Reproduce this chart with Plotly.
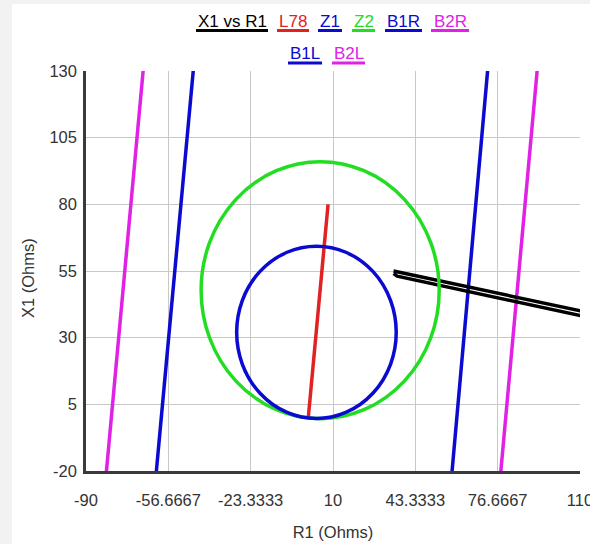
import plotly.graph_objects as go

# ---------------- data ----------------
x_tick_vals = [-90, -56.6667, -23.3333, 10, 43.3333, 76.6667, 110]
x_tick_text = ["-90", "-56.6667", "-23.3333", "10", "43.3333", "76.6667", "110"]
y_tick_vals = [-20, 5, 30, 55, 80, 105, 130]
y_tick_text = ["-20", "5", "30", "55", "80", "105", "130"]

# X1 vs R1 trajectory (thin loop)
xr_x = [34.5, 50, 70, 90, 112, 112, 90, 70, 50, 36, 34.5]
xr_y = [55.0, 51.95, 48.0, 44.05, 39.7, 37.9, 42.25, 46.2, 50.15, 53.1, 54.0]

# L78 line
l78_x = [0, 8]
l78_y = [0, 80]

# blinder lines (y extent shared)
blinder_y = [-40, 150]
b1r_x = [56.3, 74.5]
b2r_x = [76.0, 94.6]
b1l_x = [-63.5, -44.6]
b2l_x = [-83.7, -64.9]

# mho circles: [x0, x1, y0, y1] bounds
z1_bounds = [-29.0, 35.6, -0.3, 64.3]
z2_bounds = [-43.4, 53.0, -0.4, 96.0]

# legend
legend_names = ["X1 vs R1", "L78", "Z1", "Z2", "B1R", "B2R", "B1L", "B2L"]

# ---------------- styles ----------------
BLACK = "#000000"
RED = "#e02222"
BLUE = "#0a0ad0"
GREEN = "#22dd22"
MAGENTA = "#e022e6"
FONT = "Liberation Sans, Arial, sans-serif"
LW = 3.5

fig = go.Figure()

fig.add_trace(go.Scatter(x=b2l_x, y=blinder_y, mode="lines",
                         line=dict(color=MAGENTA, width=LW), showlegend=False))
fig.add_trace(go.Scatter(x=b1l_x, y=blinder_y, mode="lines",
                         line=dict(color=BLUE, width=LW), showlegend=False))
fig.add_trace(go.Scatter(x=b1r_x, y=blinder_y, mode="lines",
                         line=dict(color=BLUE, width=LW), showlegend=False))
fig.add_trace(go.Scatter(x=b2r_x, y=blinder_y, mode="lines",
                         line=dict(color=MAGENTA, width=LW), showlegend=False))
fig.add_trace(go.Scatter(x=l78_x, y=l78_y, mode="lines",
                         line=dict(color=RED, width=LW), showlegend=False))
fig.add_trace(go.Scatter(x=xr_x, y=xr_y, mode="lines",
                         line=dict(color=BLACK, width=3.4), showlegend=False))

shapes = []
# background: gray paper with white area
shapes.append(dict(type="rect", xref="paper", yref="paper", layer="below",
                   x0=(12 - 86) / 494, x1=(600 - 86) / 494,
                   y0=(471 - 560) / 400, y1=(471 - 4) / 400,
                   fillcolor="white", line=dict(width=0)))
# circles
for b, c in [(z2_bounds, GREEN), (z1_bounds, BLUE)]:
    shapes.append(dict(type="circle", xref="x", yref="y",
                       x0=b[0], x1=b[1], y0=b[2], y1=b[3],
                       line=dict(color=c, width=LW)))

# legend built from annotations + underline shapes (pixel layout)
leg_colors = [BLACK, RED, BLUE, GREEN, BLUE, MAGENTA, BLUE, MAGENTA]
leg_extents = [(196, 268), (277, 309), (318, 342), (352, 375), (385, 422),
               (431, 469), (288, 322), (332, 365)]
leg_rows = [0, 0, 0, 0, 0, 0, 1, 1]
row_text_y = [21, 53]
row_line_y = [30.5, 63]

def px2paper_x(px):
    return (px - 86) / 494

def px2paper_y(py):
    return (471 - py) / 400

annotations = []
for name, col, (a, b), r in zip(legend_names, leg_colors, leg_extents, leg_rows):
    annotations.append(dict(text=name, xref="paper", yref="paper",
                            x=px2paper_x((a + b) / 2), y=px2paper_y(row_text_y[r]),
                            xanchor="center", yanchor="middle", showarrow=False,
                            font=dict(family=FONT, size=17, color=col)))
    shapes.append(dict(type="line", xref="paper", yref="paper",
                       x0=px2paper_x(a), x1=px2paper_x(b),
                       y0=px2paper_y(row_line_y[r]), y1=px2paper_y(row_line_y[r]),
                       line=dict(color=col, width=3)))

annotations.append(dict(text="X1 (Ohms)", xref="paper", yref="paper",
                        x=px2paper_x(28), y=px2paper_y(278), textangle=-90,
                        xanchor="center", yanchor="middle", showarrow=False,
                        font=dict(family=FONT, size=16.5, color="#333333")))

fig.update_layout(
    width=590, height=544,
    margin=dict(l=86, r=10, t=71, b=73, autoexpand=False),
    paper_bgcolor="#f2f2f2",
    plot_bgcolor="white",
    font=dict(family=FONT, size=16.5, color="#333333"),
    shapes=shapes,
    annotations=annotations,
    showlegend=False,
)

fig.update_xaxes(
    range=[-90, 110], tickmode="array", tickvals=x_tick_vals, ticktext=x_tick_text,
    showgrid=True, gridcolor="#c8c8c8", gridwidth=1,
    showline=True, linecolor="#3a3a3a", linewidth=2.5, automargin=False,
    zeroline=False, ticks="", ticklabelstandoff=12, ticklabeloverflow="allow",
    title=dict(text="R1 (Ohms)", font=dict(size=16.5, color="#333333"), standoff=19),
    tickfont=dict(size=16.5, color="#333333"),
)
fig.update_yaxes(
    range=[-20, 130], tickmode="array", tickvals=y_tick_vals, ticktext=y_tick_text,
    showgrid=True, gridcolor="#c8c8c8", gridwidth=1,
    showline=True, linecolor="#3a3a3a", linewidth=2.5, automargin=False,
    zeroline=False, ticks="", ticklabelstandoff=3, ticklabeloverflow="allow",
    tickfont=dict(size=16.5, color="#333333"),
)

fig.write_html("out.html")
